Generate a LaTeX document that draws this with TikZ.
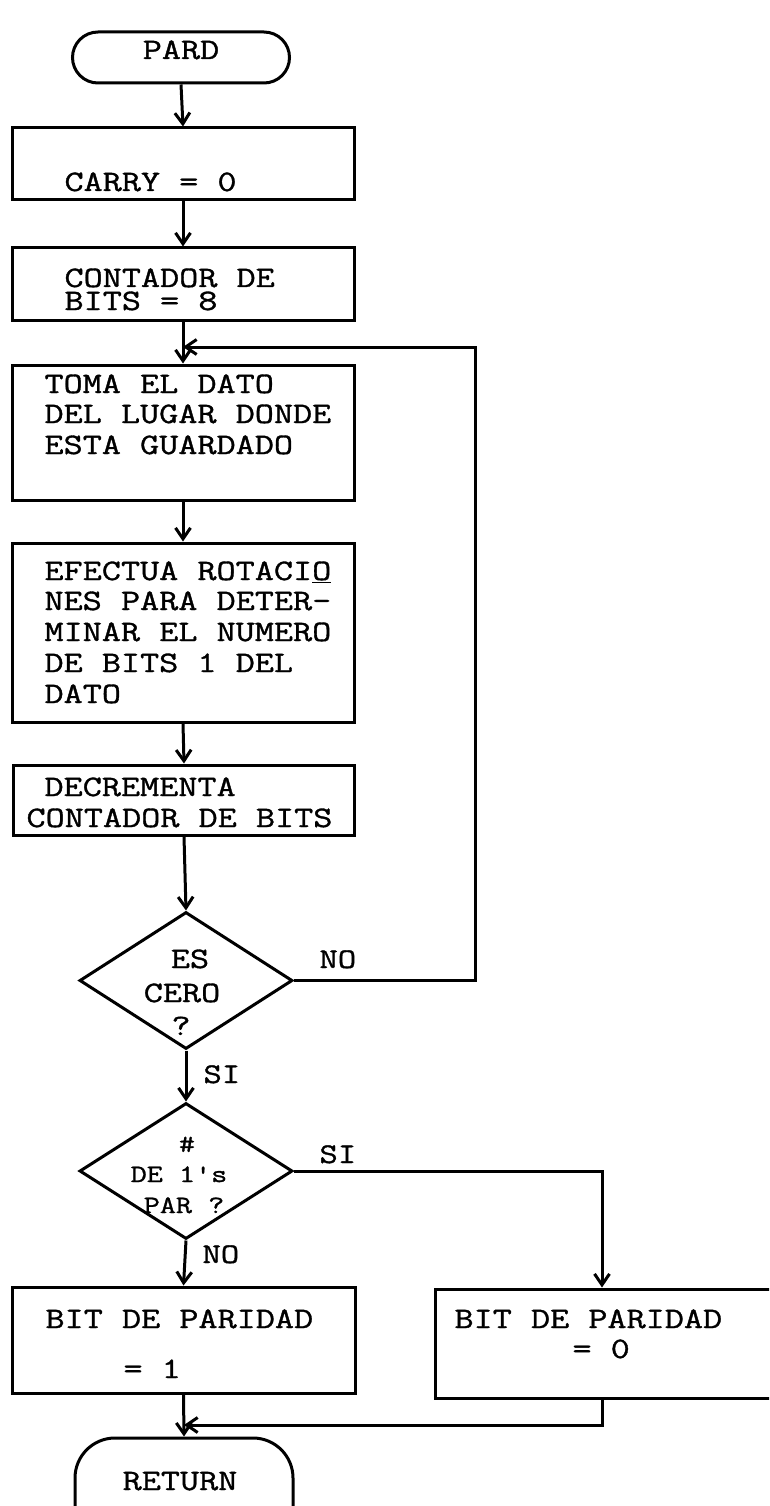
\documentclass[tikz,border=0pt]{standalone}
\usepackage{fontspec}
\setmainfont{Latin Modern Mono}[FakeStretch=1.25,FakeBold=1.2,Ligatures=TeXOff]
\usetikzlibrary{arrows.meta,shapes.geometric,shapes.misc}
\begin{document}
\begin{tikzpicture}[x=1pt,y=-1pt,line width=3pt,
  box/.style={draw,rectangle,inner sep=0pt,line width=3pt},
  term/.style={draw,rounded rectangle,inner sep=0pt,line width=3pt},
  ret/.style={draw,rectangle,rounded corners=40pt,inner sep=0pt,line width=3pt},
  dia/.style={draw,diamond,inner sep=0pt,line width=3pt},
  arr/.style={-{Straight Barb[length=11pt,width=15pt]}},
  txt/.style={inner sep=0pt,font=\fontsize{29.7}{30}\selectfont},
  stxt/.style={inner sep=0pt,font=\fontsize{25}{25}\selectfont},
  lbl/.style={inner sep=0pt,font=\fontsize{28.5}{29}\selectfont}]
\path[use as bounding box] (0,0) rectangle (769,1506);
\clip (0,0) rectangle (769,1506);
% shapes
\node[term,minimum width=217pt,minimum height=51pt] (pard) at (181,57.5) {};
\node[box,minimum width=342pt,minimum height=72pt] (carry) at (183,164) {};
\node[box,minimum width=342pt,minimum height=72pt] (cont) at (183,284) {};
\node[box,minimum width=342pt,minimum height=135pt] (toma) at (183,432.5) {};
\node[box,minimum width=342pt,minimum height=179pt] (efec) at (183,632.5) {};
\node[box,minimum width=341pt,minimum height=70pt] (decr) at (184,800) {};
\node[dia,minimum width=213pt,minimum height=137pt] (d1) at (186,980.5) {};
\node[dia,minimum width=213pt,minimum height=136pt] (d2) at (186,1171) {};
\node[box,minimum width=343pt,minimum height=106pt] (p1) at (183.5,1340) {};
\node[box,minimum width=370pt,minimum height=109pt] (p0) at (620,1343.5) {};
\node[ret,minimum width=218pt,minimum height=110pt] (ret) at (184,1493) {};
% texts
\node[txt,anchor=base] (tpard) at (181,59) {PARD};
\node[txt,anchor=base west] (tcarry) at (63,191) {CARRY = 0};
\node[txt,anchor=base west] (tc1) at (63,287) {CONTADOR DE};
\node[txt,anchor=base west] (tc2) at (63,310) {BITS = 8};
\node[txt,anchor=base west] (tt1) at (43,393) {TOMA EL DATO};
\node[txt,anchor=base west] (tt2) at (43,423) {DEL LUGAR DONDE};
\node[txt,anchor=base west] (tt3) at (43,454) {ESTA GUARDADO};
\node[txt,anchor=base west] (te1) at (43,580) {EFECTUA ROTACI\underline{O}};
\node[txt,anchor=base west] (te2) at (43,610) {NES PARA DETER-};
\node[txt,anchor=base west] (te3) at (43,641) {MINAR EL NUMERO};
\node[txt,anchor=base west] (te4) at (43,672) {DE BITS 1 DEL};
\node[txt,anchor=base west] (te5) at (43,703) {DATO};
\node[txt,anchor=base west] (td1) at (43,796) {DECREMENTA};
\node[txt,anchor=base west] (td2) at (25,827) {CONTADOR DE BITS};
\node[txt,anchor=base] (tes) at (190,968) {ES};
\node[txt,anchor=base] (tcero) at (182,1002) {CERO};
\node[txt,anchor=base] (tq) at (181,1035) {?};
\node[lbl,anchor=base west] (tno1) at (318,968) {NO};
\node[lbl,anchor=base west] (tsi1) at (202,1083) {SI};
\node[stxt,anchor=base] (thash) at (187,1152) {\#};
\node[stxt,anchor=base] (tde) at (179,1182) {DE 1's};
\node[stxt,anchor=base] (tpar) at (184,1213) {PAR ?};
\node[lbl,anchor=base west] (tsi2) at (318,1163) {SI};
\node[lbl,anchor=base west] (tno2) at (201,1263) {NO};
\node[txt,anchor=base west] (tp11) at (44,1328) {BIT DE PARIDAD};
\node[txt,anchor=base west] (tp12) at (122,1378) {= 1};
\node[txt,anchor=base west] (tp01) at (453,1328) {BIT DE PARIDAD};
\node[txt,anchor=base west] (tp02) at (571,1358) {= 0};
\node[txt,anchor=base] (tret) at (180,1490) {RETURN};
% connectors
\draw[arr] (pard.south) -- (carry.north);
\draw[arr] (carry.south) -- (cont.north);
\draw[arr] (cont.south) -- (toma.north);
\draw[arr] (toma.south) -- (efec.north);
\draw[arr] (efec.south) -- (decr.north);
\draw[arr] (decr.south) -- (d1.north);
\draw[arr] (d1.south) -- (d2.north);
\draw[arr] (d2.south) -- (p1.north);
\draw[arr] (p1.south) -- (ret.north);
\coordinate (r1) at (475,980.5);
\coordinate (j1) at (183,347);
\draw[arr] (d1.east) -- (r1) |- (j1);
\coordinate (r2) at (602,1171);
\coordinate (j2) at (184,1425);
\draw[arr] (d2.east) -- (r2) -- (r2 |- p0.north);
\draw[arr] (r2 |- p0.south) |- (j2);
\end{tikzpicture}
\end{document}
